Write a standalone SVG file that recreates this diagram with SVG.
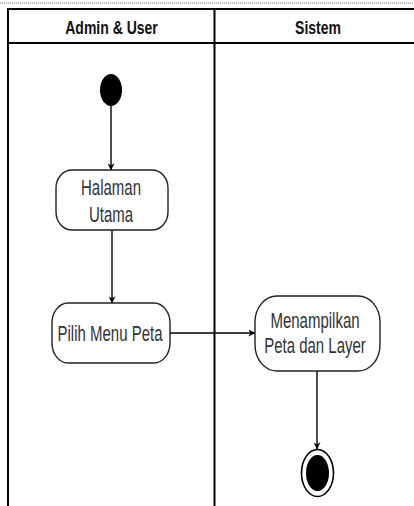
<svg xmlns="http://www.w3.org/2000/svg" width="414" height="506" viewBox="0 0 414 506">
<defs>
<style>
.lane{stroke:#000;stroke-width:2;fill:none}
.node{fill:#fff;stroke:#222;stroke-width:1.4}
.hd{font-family:"Liberation Sans",Arial,sans-serif;font-weight:bold;font-size:14px;fill:#111;text-anchor:middle}
.tx{font-family:"Liberation Sans",Arial,sans-serif;font-size:15px;fill:#333;text-anchor:middle}
.edge{stroke:#000;stroke-width:1.4;fill:none;marker-end:url(#arr)}
</style>
<marker id="arr" viewBox="0 0 10 10" refX="9.5" refY="5" markerWidth="7" markerHeight="7" markerUnits="userSpaceOnUse" orient="auto">
<path d="M0,0 L10,5 L0,10 L3,5 Z" fill="#000"/>
</marker>
</defs>
<rect width="414" height="506" fill="#fff"/>
<line x1="0" y1="3" x2="414" y2="3" stroke="#777" stroke-width="1" stroke-dasharray="1,1"/>
<g id="lanes">
<path class="lane" d="M8,506 V9 H414 M8,43 H414 M214.5,9 V506"/>
<text class="hd" transform="translate(111.5,34) scale(1,1.25)">Admin &amp; User</text>
<text class="hd" transform="translate(318,34) scale(1,1.25)">Sistem</text>
</g>
<g id="connectors">
<line class="edge" x1="111" y1="106" x2="111" y2="170"/>
<line class="edge" x1="112" y1="230" x2="112" y2="303"/>
<line class="edge" x1="170" y1="333" x2="255" y2="333"/>
<line class="edge" x1="317" y1="371" x2="317" y2="449"/>
</g>
<g id="start">
<ellipse cx="111" cy="90" rx="11" ry="16" fill="#000"/>
</g>
<g id="halaman-utama">
<rect class="node" x="56" y="170" width="112" height="60" rx="16" ry="18"/>
<text class="tx" transform="translate(111,195) scale(1,1.45)">Halaman</text>
<text class="tx" transform="translate(111,221.5) scale(1,1.45)">Utama</text>
</g>
<g id="pilih-menu-peta">
<rect class="node" x="52" y="303" width="118" height="60" rx="16" ry="20"/>
<text class="tx" transform="translate(110,341) scale(1,1.45)">Pilih Menu Peta</text>
</g>
<g id="menampilkan">
<rect class="node" x="255" y="296" width="125" height="75" rx="22" ry="26"/>
<text class="tx" transform="translate(315,328) scale(1,1.45)">Menampilkan</text>
<text class="tx" transform="translate(315,353) scale(1,1.45)">Peta dan Layer</text>
</g>
<g id="end">
<ellipse cx="317.5" cy="473" rx="16" ry="23.5" fill="#fff" stroke="#000" stroke-width="1.6"/>
<ellipse cx="317.5" cy="473" rx="11.5" ry="18" fill="#000"/>
</g>
</svg>
